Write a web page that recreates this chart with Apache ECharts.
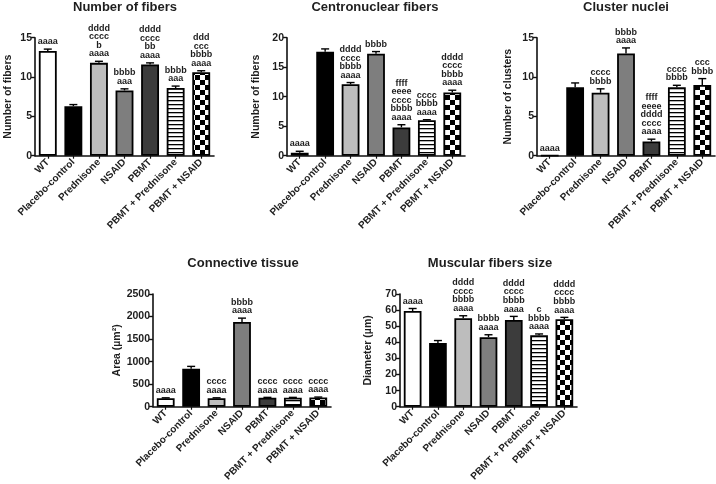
<!DOCTYPE html>
<html>
<head>
<meta charset="utf-8">
<script src="https://cdn.jsdelivr.net/npm/echarts@6/dist/echarts.min.js"></script>
<style>
html, body { margin: 0; padding: 0; background: #fff; }
#chart { width: 716px; height: 484px; }
</style>
</head>
<body>
<div id="chart"></div>
<script>
// groups (same for every panel)
const groups = ['WT', 'Placebo-control', 'Prednisone', 'NSAID', 'PBMT', 'PBMT + Prednisone', 'PBMT + NSAID'];

// Number of fibers
const fibersMean = [13.3, 6.3, 11.8, 8.3, 11.6, 8.6, 10.6];
const fibersSem = [0.25, 0.2, 0.2, 0.2, 0.2, 0.25, 0.2];
const fibersSig = ['aaaa', '', 'dddd\ncccc\nb\naaaa', 'bbbb\naaa', 'dddd\ncccc\nbb\naaaa', 'bbbb\naaa', 'ddd\nccc\nbbbb\naaaa'];

// Centronuclear fibers
const centroMean = [0.5, 17.6, 12.1, 17.3, 4.8, 6.0, 10.7];
const centroSem = [0.25, 0.5, 0.3, 0.35, 0.45, 0.1, 0.4];
const centroSig = ['aaaa', '', 'dddd\ncccc\nbbbb\naaaa', 'bbbb', 'ffff\neeee\ncccc\nbbbb\naaaa', 'cccc\nbbbb\naaaa', 'dddd\ncccc\nbbbb\naaaa'];

// Cluster nuclei
const clusterMean = [0, 8.7, 8.0, 13.0, 1.8, 8.7, 9.0];
const clusterSem = [0, 0.55, 0.5, 0.7, 0.3, 0.25, 0.8];
const clusterSig = ['aaaa', '', 'cccc\nbbbb', 'bbbb\naaaa', 'ffff\neeee\ndddd\ncccc\naaaa', 'cccc\nbbbb', 'ccc\nbbbb'];

// Connective tissue
const areaMean = [190, 845, 190, 1880, 200, 200, 205];
const areaSem = [8, 50, 8, 85, 8, 8, 10];
const areaSig = ['aaaa', '', 'cccc\naaaa', 'bbbb\naaaa', 'cccc\naaaa', 'cccc\naaaa', 'cccc\naaaa'];

// Muscular fibers size
const sizeMean = [59.4, 39.6, 55.0, 43.2, 53.9, 44.4, 54.3];
const sizeSem = [1.6, 1.5, 1.5, 1.5, 2.2, 0.8, 1.2];
const sizeSig = ['aaaa', '', 'dddd\ncccc\nbbbb\naaaa', 'bbbb\naaaa', 'dddd\ncccc\nbbbb\naaaa', 'c\nbbbb\naaaa', 'dddd\ncccc\nbbbb\naaaa'];

// fill patterns
function stripes () {
  const c = document.createElement('canvas');
  c.width = 4; c.height = 4;
  const ctx = c.getContext('2d');
  ctx.fillStyle = '#fff';
  ctx.fillRect(0, 0, 4, 4);
  ctx.fillStyle = '#000';
  ctx.fillRect(0, 0, 4, 1.3);
  return c;
}
function checker () {
  const c = document.createElement('canvas');
  c.width = 10; c.height = 10;
  const ctx = c.getContext('2d');
  ctx.fillStyle = '#fff';
  ctx.fillRect(0, 0, 10, 10);
  ctx.fillStyle = '#000';
  ctx.fillRect(0, 0, 5, 5);
  ctx.fillRect(5, 5, 5, 5);
  return c;
}
const fills = ['#ffffff', '#000000', '#bdbdbd', '#7e7e7e', '#3c3c3c',
  { image: stripes(), repeat: 'repeat' }, { image: checker(), repeat: 'repeat' }];

const FONT = 'Liberation Sans';

const panels = [
  { title: 'Number of fibers', yName: 'Number of fibers', max: 15, interval: 5, mean: fibersMean, sem: fibersSem, sig: fibersSig,
    grid: { left: 35, top: 37.7, width: 179, height: 118 }, tx: 125, ty: 1, gap: 21 },
  { title: 'Centronuclear fibers', yName: 'Number of fibers', max: 20, interval: 5, mean: centroMean, sem: centroSem, sig: centroSig,
    grid: { left: 287, top: 37.7, width: 178, height: 118 }, tx: 375, ty: 1, gap: 25 },
  { title: 'Cluster nuclei', yName: 'Number of clusters', max: 15, interval: 5, mean: clusterMean, sem: clusterSem, sig: clusterSig,
    grid: { left: 537, top: 37.7, width: 178, height: 118 }, tx: 626, ty: 1, gap: 23 },
  { title: 'Connective tissue', yName: 'Area (\u00b5m\u00b2)', max: 2500, interval: 500, mean: areaMean, sem: areaSem, sig: areaSig,
    grid: { left: 153, top: 294, width: 178, height: 118.3 }, tx: 243, ty: 257, gap: 25 },
  { title: 'Muscular fibers size', yName: 'Diameter (\u00b5m)', max: 70, interval: 10, mean: sizeMean, sem: sizeSem, sig: sizeSig,
    grid: { left: 400, top: 294, width: 177, height: 118.7 }, tx: 490, ty: 257, gap: 26 }
];

const option = {
  animation: false,
  backgroundColor: '#fff',
  title: [],
  grid: [],
  xAxis: [],
  yAxis: [],
  series: []
};

panels.forEach((p, k) => {
  option.title.push({
    text: p.title, left: p.tx, top: p.ty, textAlign: 'center', padding: 0,
    textStyle: { fontFamily: FONT, fontSize: 13, fontWeight: 'bold', color: '#1e1e1e' }
  });
  option.grid.push(Object.assign({ containLabel: false }, p.grid));
  option.xAxis.push({
    type: 'category', gridIndex: k, data: groups,
    axisLine: { lineStyle: { color: '#111', width: 1.6 } },
    axisTick: { show: true, alignWithLabel: true, length: 3, lineStyle: { color: '#111', width: 1.2 } },
    axisLabel: { rotate: 45, interval: 0, margin: 5, fontFamily: FONT, fontSize: 10, fontWeight: 'bold', color: '#1e1e1e' }
  });
  option.yAxis.push({
    type: 'value', gridIndex: k, min: 0, max: p.max, interval: p.interval,
    name: p.yName, nameLocation: 'middle', nameGap: p.gap,
    nameTextStyle: { fontFamily: FONT, fontSize: 10.5, fontWeight: 'bold', color: '#1e1e1e' },
    splitLine: { show: false },
    axisLine: { show: true, lineStyle: { color: '#111', width: 1.6 } },
    axisTick: { show: true, length: 4, lineStyle: { color: '#111', width: 1.4 } },
    axisLabel: { margin: 3, fontFamily: FONT, fontSize: 10.5, fontWeight: 'bold', color: '#1e1e1e', formatter: v => String(v) }
  });
  option.series.push({
    type: 'bar', xAxisIndex: k, yAxisIndex: k, barWidth: '70%',
    data: p.mean.map((v, i) => ({ value: v, itemStyle: { color: fills[i], borderColor: '#000', borderWidth: 1.8 } }))
  });
  option.series.push({
    type: 'custom', xAxisIndex: k, yAxisIndex: k, z: 5,
    data: p.mean.map((v, i) => [i, v, p.sem[i]]),
    renderItem: (params, api) => {
      const i = api.value(0), m = api.value(1), s = api.value(2);
      const base = api.coord([i, m]);
      const top = api.coord([i, m + s]);
      const children = [];
      if (s > 0) {
        children.push({ type: 'line', shape: { x1: base[0], y1: base[1], x2: top[0], y2: top[1] }, style: { stroke: '#000', lineWidth: 1.4 } });
        children.push({ type: 'line', shape: { x1: top[0] - 4, y1: top[1], x2: top[0] + 4, y2: top[1] }, style: { stroke: '#000', lineWidth: 1.4 } });
      }
      const txt = p.sig[params.dataIndex];
      if (txt) {
        children.push({
          type: 'text', x: top[0], y: top[1] - 3,
          style: { text: txt, fill: '#1e1e1e', font: 'bold 9px "' + FONT + '"', align: 'center', verticalAlign: 'bottom', textAlign: 'center', textVerticalAlign: 'bottom', lineHeight: 8.6 }
        });
      }
      return { type: 'group', children: children };
    }
  });
});

const chart = echarts.init(document.getElementById('chart'), null, { renderer: 'canvas' });
chart.setOption(option);
</script>
</body>
</html>
